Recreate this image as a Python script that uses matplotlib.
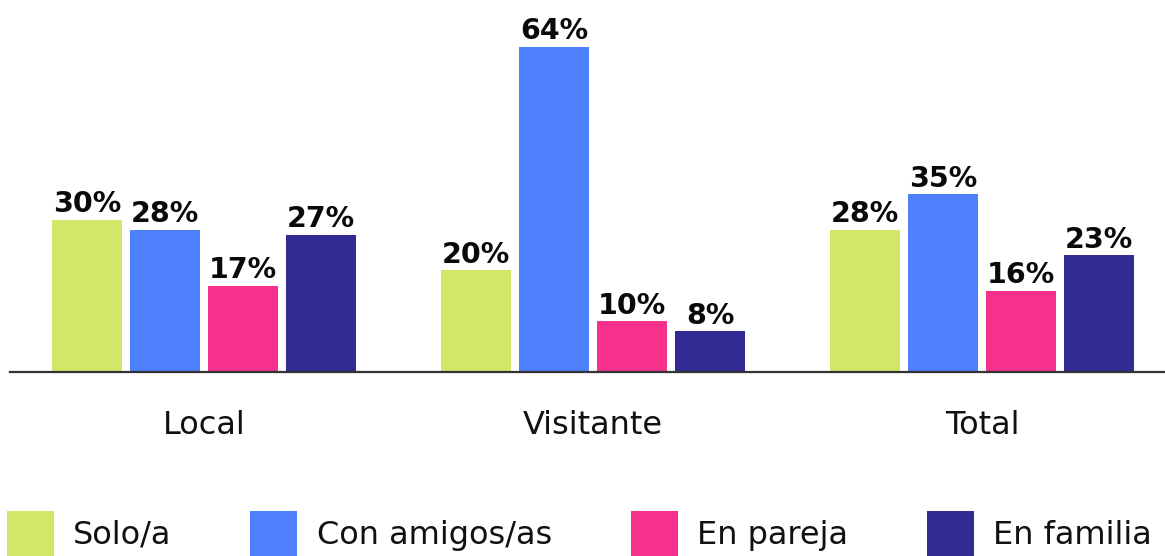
import matplotlib
matplotlib.use("Agg")
import matplotlib.pyplot as plt
from matplotlib.patches import Patch
import numpy as np

categories = ["Local", "Visitante", "Total"]
series_names = ["Solo/a", "Con amigos/as", "En pareja", "En familia"]
solo = [30, 20, 28]
amigos = [28, 64, 35]
pareja = [17, 10, 16]
familia = [27, 8, 23]
colors = ["#D1E767", "#4F81FF", "#F5318B", "#322A93"]

plt.rcParams['font.family'] = ['DejaVu Sans']

W, H = 1165, 556
fig = plt.figure(figsize=(W / 100, H / 100), dpi=100)
# axes in pixel geometry: left 10, right 1165, baseline at y=372 from top, top at 0
ax = fig.add_axes([10 / W, (H - 372) / H, (W - 10) / W, 372 / H])

unit = 389.0  # px per group
step = 78.0 / unit
width = 70.0 / unit
x = np.arange(len(categories))
all_series = [solo, amigos, pareja, familia]
for j, (vals, c, name) in enumerate(zip(all_series, colors, series_names)):
    pos = x + (j - 1.5) * step
    bars = ax.bar(pos, vals, width=width, color=c, label=name, zorder=2)
    for b, v in zip(bars, vals):
        ax.annotate(f"{v}%", (b.get_x() + b.get_width() / 2, v),
                    xytext=(0, 5.5), textcoords="offset points",
                    ha="center", va="baseline", fontsize=20.5, fontweight="bold",
                    color="#0a0a0a")

ax.set_xlim((10 - 204) / unit, (1165 - 204) / unit)
ax.set_ylim(0, 372 / (325 / 64))
for s in ["top", "right", "left"]:
    ax.spines[s].set_visible(False)
ax.spines["bottom"].set_color("#333333")
ax.spines["bottom"].set_linewidth(1.6)
ax.spines["bottom"].set_zorder(3)
ax.set_yticks([])
ax.set_xticks(x)
ax.set_xticklabels(categories, fontsize=23, color="#111111")
ax.tick_params(axis="x", length=0, pad=27)

handles = [Patch(facecolor=c, edgecolor="none") for c in colors]
fig.legend(handles, series_names, loc="upper left",
           bbox_to_anchor=(7 / W, (H - 511) / H), ncol=4, frameon=False,
           fontsize=23, borderpad=0, borderaxespad=0,
           handlelength=1.47, handleheight=1.8, handletextpad=0.6,
           columnspacing=2.47, labelcolor="#111111")

fig.savefig("out.png", dpi=100)
